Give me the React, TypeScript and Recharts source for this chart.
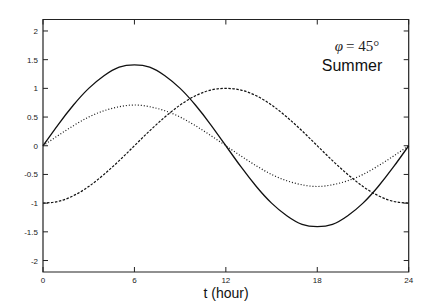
import React from "react";
import { LineChart, Line, XAxis, YAxis, Customized, ReferenceArea } from "recharts";

const hours = [0,1,2,3,4,5,6,7,8,9,10,11,12,13,14,15,16,17,18,19,20,21,22,23,24];
const solidSeries = [0,0.37,0.71,1.0,1.22,1.37,1.41,1.37,1.22,1.0,0.71,0.37,0,-0.37,-0.71,-1.0,-1.22,-1.37,-1.41,-1.37,-1.22,-1.0,-0.71,-0.37,0];
const dottedSeries = [0,0.18,0.35,0.5,0.61,0.68,0.71,0.68,0.61,0.5,0.35,0.18,0,-0.18,-0.35,-0.5,-0.61,-0.68,-0.71,-0.68,-0.61,-0.5,-0.35,-0.18,0];
const dashedSeries = [-1,-0.97,-0.87,-0.71,-0.5,-0.26,0,0.26,0.5,0.71,0.87,0.97,1,0.97,0.87,0.71,0.5,0.26,0,-0.26,-0.5,-0.71,-0.87,-0.97,-1];
const xTicks = [0,6,12,18,24];
const yTicks = [-2,-1.5,-1,-0.5,0,0.5,1,1.5,2];
const xLabel = "t (hour)";
const annotation1 = "= 45°";
const annotation2 = "Summer";

const data = hours.map((t, i) => ({ t, a: solidSeries[i], b: dottedSeries[i], c: dashedSeries[i] }));

const FONT = "'Liberation Sans', Arial, sans-serif";
const AX = "#222";

const BottomTick = (props: any) => {
  const { x, y, payload } = props;
  return (
    <g>
      <line x1={x} y1={y} x2={x} y2={y - 5} stroke={AX} strokeWidth={1} />
      <text x={x} y={y + 11} textAnchor="middle" fontSize={8} fontFamily={FONT} fill="#222">{payload.value}</text>
    </g>
  );
};
const TopTick = (props: any) => {
  const { x, y } = props;
  return <line x1={x} y1={y} x2={x} y2={y + 5} stroke={AX} strokeWidth={1} />;
};
const LeftTick = (props: any) => {
  const { x, y, payload } = props;
  return (
    <g>
      <line x1={x} y1={y} x2={x + 5} y2={y} stroke={AX} strokeWidth={1} />
      <text x={x - 5} y={y + 3} textAnchor="end" fontSize={8} fontFamily={FONT} fill="#222">{payload.value}</text>
    </g>
  );
};
const RightTick = (props: any) => {
  const { x, y } = props;
  return <line x1={x} y1={y} x2={x - 5} y2={y} stroke={AX} strokeWidth={1} />;
};

const Annot = () => (
  <g>
    <text x={357} y={51} textAnchor="middle" fontSize={15} fontFamily="'Liberation Serif', 'DejaVu Serif', serif" fill="#222">
      <tspan fontStyle="italic">φ</tspan>
      <tspan dx={3}>{annotation1}</tspan>
    </text>
    <text x={352} y={71} textAnchor="middle" fontSize={16} fontFamily={FONT} fill="#111">{annotation2}</text>
    <text x={226} y={298} textAnchor="middle" fontSize={14} fontFamily={FONT} fill="#111">{xLabel}</text>
  </g>
);

export default function App() {
  return (
    <div style={{ position: "absolute", left: 0, top: 0, width: 436, height: 308, background: "#fff" }}>
      <LineChart width={436} height={308} data={data} margin={{ top: 18.5, right: 26.3, bottom: 0, left: 0 }}>
        <XAxis xAxisId="b" dataKey="t" type="number" domain={[0, 24]} ticks={xTicks} height={36}
          axisLine={false} tickLine={false} tickSize={0} tickMargin={0} tick={<BottomTick />} />
        <XAxis xAxisId="t" dataKey="t" type="number" domain={[0, 24]} ticks={xTicks} orientation="top" height={1}
          axisLine={false} tickLine={false} tickSize={0} tickMargin={0} tick={<TopTick />} />
        <YAxis yAxisId="l" type="number" domain={[-2.2, 2.2]} ticks={yTicks} width={43}
          axisLine={false} tickLine={false} tickSize={0} tickMargin={0} tick={<LeftTick />} allowDataOverflow />
        <YAxis yAxisId="r" type="number" domain={[-2.2, 2.2]} ticks={yTicks} orientation="right" width={1}
          axisLine={false} tickLine={false} tickSize={0} tickMargin={0} tick={<RightTick />} allowDataOverflow />
        <ReferenceArea xAxisId="b" yAxisId="l" x1={0} x2={24} y1={-2.2} y2={2.2} fill="none" stroke={AX} strokeWidth={1.2} ifOverflow="visible" />
        <Line xAxisId="b" yAxisId="l" type="natural" dataKey="a" stroke="#111" strokeWidth={1.3} dot={false} isAnimationActive={false} />
        <Line xAxisId="b" yAxisId="l" type="natural" dataKey="b" stroke="#111" strokeWidth={1.2} strokeDasharray="1 2" dot={false} isAnimationActive={false} />
        <Line xAxisId="b" yAxisId="l" type="natural" dataKey="c" stroke="#111" strokeWidth={1.2} strokeDasharray="2.5 1.5" dot={false} isAnimationActive={false} />
        <Customized component={Annot} />
      </LineChart>
    </div>
  );
}
